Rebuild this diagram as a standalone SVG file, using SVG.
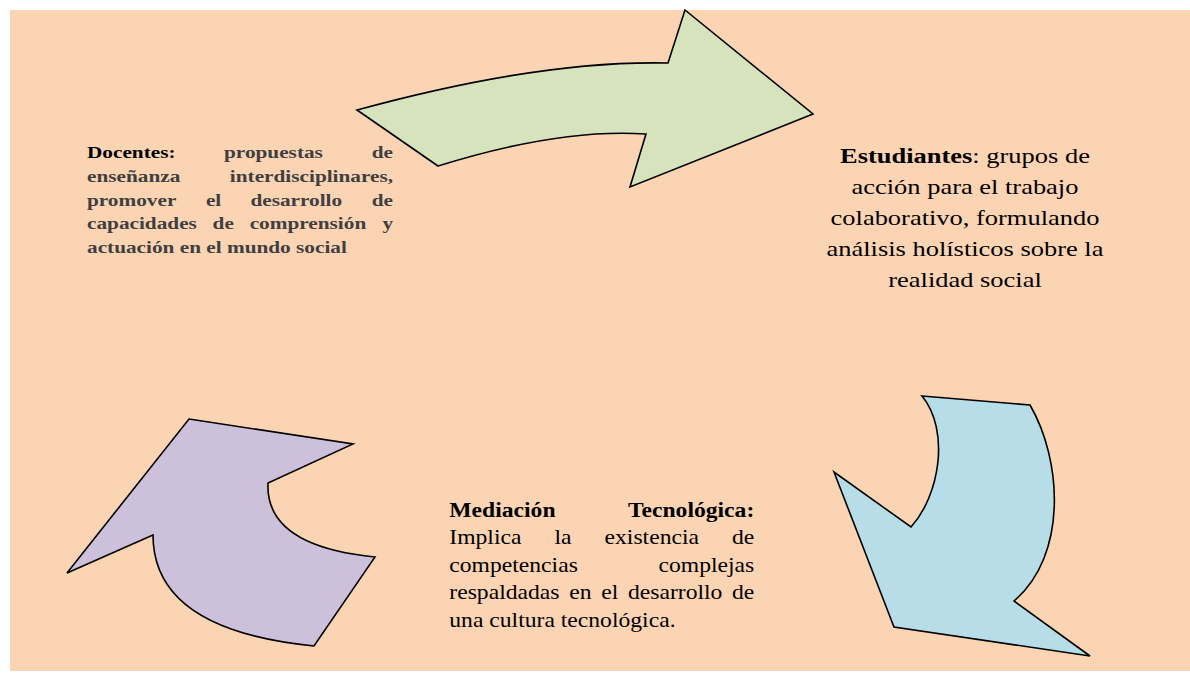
<svg xmlns="http://www.w3.org/2000/svg" width="1190" height="673" viewBox="0 0 1190 673">
<style>
.arrow{stroke:#000;stroke-width:1.6;stroke-linejoin:miter}
.bd{font-family:"Liberation Serif","Times New Roman",serif;font-weight:bold}
.rg{font-family:"Liberation Serif","Times New Roman",serif}
.doc{font-size:17.5px;fill:#3f3f3f}
.est{font-size:21px;fill:#000}
.med{font-size:21px;fill:#000}
</style>
<rect x="10" y="10" width="1180" height="661" fill="#FBD4B4"/>
<g id="connectors">
<g id="arrow-green">
<path class="arrow" fill="#D6E3BC" d="M357,110 Q540,60 668,63 L685,10 L813,114 L630,187 L646,134 Q560,128 438,166 Z"/>
</g>
<g id="arrow-blue">
<path class="arrow" fill="#B7DEE8" d="M922,396 L1030,405 C1062,460 1068,555 1014,601 L1090,656 L894,627 L834,472 L911,527 C940,495 950,430 922,396 Z"/>
</g>
<g id="arrow-purple">
<path class="arrow" fill="#CCC0DA" d="M189,419 L353,444 L268,483 Q265,546 375,557 L314,646 Q153,630 153,535 L67,573 Z"/>
</g>
</g>
<g id="node-docentes" class="bd doc" transform="translate(87 0) scale(1.215 1)">
<text x="0" y="158.5" fill="#000">Docentes:</text>
<text x="112.8" y="158.5">propuestas</text>
<text x="251.9" y="158.5" text-anchor="end">de</text>
<text x="0" y="182.1">enseñanza</text>
<text x="251.9" y="182.1" text-anchor="end">interdisciplinares,</text>
<text x="0" y="205.7">promover</text>
<text x="97.9" y="205.7">el</text>
<text x="134.5" y="205.7">desarrollo</text>
<text x="251.9" y="205.7" text-anchor="end">de</text>
<text x="0" y="229.3">capacidades</text>
<text x="103.4" y="229.3">de</text>
<text x="133.9" y="229.3">comprensión</text>
<text x="251.9" y="229.3" text-anchor="end">y</text>
<text x="0" y="252.9">actuación en el mundo social</text>
</g>
<g id="node-estudiantes" class="rg est" transform="translate(965 0) scale(1.26 1)" text-anchor="middle">
<text x="0" y="163"><tspan class="bd">Estudiantes</tspan>: grupos de</text>
<text x="0" y="194">acción para el trabajo</text>
<text x="0" y="225">colaborativo, formulando</text>
<text x="0" y="256">análisis holísticos sobre la</text>
<text x="0" y="287">realidad social</text>
</g>
<g id="node-mediacion" class="rg med" transform="translate(449.3 0) scale(1.125 1)">
<text x="0" y="517" class="bd">Mediación</text>
<text x="271.1" y="517" class="bd" text-anchor="end">Tecnológica:</text>
<text x="0" y="544.5">Implica</text>
<text x="93.5" y="544.5">la</text>
<text x="138" y="544.5">existencia</text>
<text x="271.1" y="544.5" text-anchor="end">de</text>
<text x="0" y="572">competencias</text>
<text x="271.1" y="572" text-anchor="end">complejas</text>
<text x="0" y="599.5">respaldadas</text>
<text x="106.6" y="599.5">en</text>
<text x="135" y="599.5">el</text>
<text x="158.8" y="599.5">desarrollo</text>
<text x="271.1" y="599.5" text-anchor="end">de</text>
<text x="0" y="627">una cultura tecnológica.</text>
</g>
</svg>
